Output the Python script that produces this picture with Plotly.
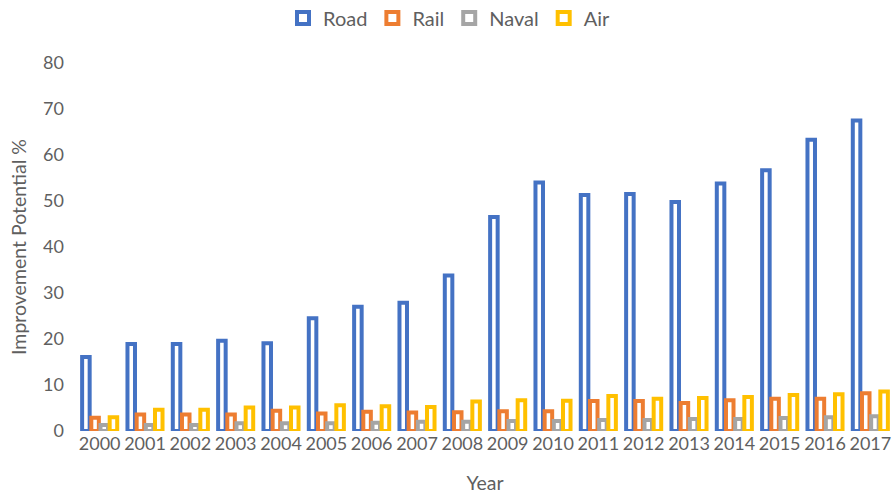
import plotly.graph_objects as go

years = [str(y) for y in range(2000, 2018)]
road = [16.1, 18.9, 18.9, 19.6, 19.1, 24.5, 27.0, 27.9, 33.8, 46.5, 54.0, 51.3, 51.5, 49.8, 53.8, 56.7, 63.3, 67.5]
rail = [2.9, 3.6, 3.6, 3.6, 4.4, 3.8, 4.2, 4.0, 4.1, 4.3, 4.3, 6.5, 6.5, 6.1, 6.7, 7.0, 7.0, 8.2]
naval = [1.3, 1.3, 1.3, 1.7, 1.7, 1.7, 1.8, 2.0, 2.0, 2.2, 2.2, 2.4, 2.4, 2.6, 2.6, 2.8, 3.0, 3.2]
air = [3.0, 4.6, 4.6, 5.1, 5.1, 5.6, 5.4, 5.2, 6.4, 6.7, 6.6, 7.6, 7.0, 7.2, 7.4, 7.8, 8.0, 8.6]

series = [("Road", road, "#4472C4"), ("Rail", rail, "#ED7D31"),
          ("Naval", naval, "#A5A5A5"), ("Air", air, "#FFC000")]

FONT = "Lato"
GREY = "#5f5f5f"
TICK_FS = 18
TITLE_FS = 19.5
W, H = 893, 494

fig = go.Figure()
for name, vals, col in series:
    fig.add_trace(go.Bar(
        x=years, y=vals, name=name, legendgroup=name, showlegend=False,
        marker=dict(color="white", line=dict(color=col, width=4)),
        cliponaxis=False,
    ))
for name, vals, col in series:
    fig.add_trace(go.Scatter(
        x=[None], y=[None], name=name, legendgroup=name, mode="markers",
        marker=dict(symbol="square", size=12, color="white", line=dict(color=col, width=4)),
    ))

fig.update_layout(
    width=W, height=H,
    margin=dict(l=77, r=0, t=63, b=63, autoexpand=False),
    plot_bgcolor="white", paper_bgcolor="white",
    barmode="group", bargap=0.19, bargroupgap=0.18,
    font=dict(family=FONT, size=TICK_FS, color=GREY),
    showlegend=True,
    legend=dict(orientation="h", x=449 / W, xanchor="center", xref="container",
                y=1 - 18 / H, yanchor="middle", yref="container",
                font=dict(family=FONT, size=20, color=GREY), itemwidth=30,
                bgcolor="rgba(0,0,0,0)"),
    xaxis=dict(title=dict(text="Year", font=dict(size=TITLE_FS, color=GREY), standoff=23),
               automargin=False,
               showgrid=False, showline=False, zeroline=False, ticks="",
               tickfont=dict(size=TICK_FS, color=GREY), tickangle=0),
    yaxis=dict(title=dict(text="Improvement Potential %", font=dict(size=TITLE_FS, color=GREY), standoff=11),
               automargin=False,
               range=[0, 80], dtick=10, showgrid=False, showline=False, zeroline=False,
               ticks="", tickfont=dict(size=TICK_FS, color=GREY), ticklabelstandoff=12),
)

fig.write_html(
    "out.html",
    config={"displayModeBar": False},
    post_script="document.body.style.margin='0px';document.body.style.overflow='hidden';",
)
